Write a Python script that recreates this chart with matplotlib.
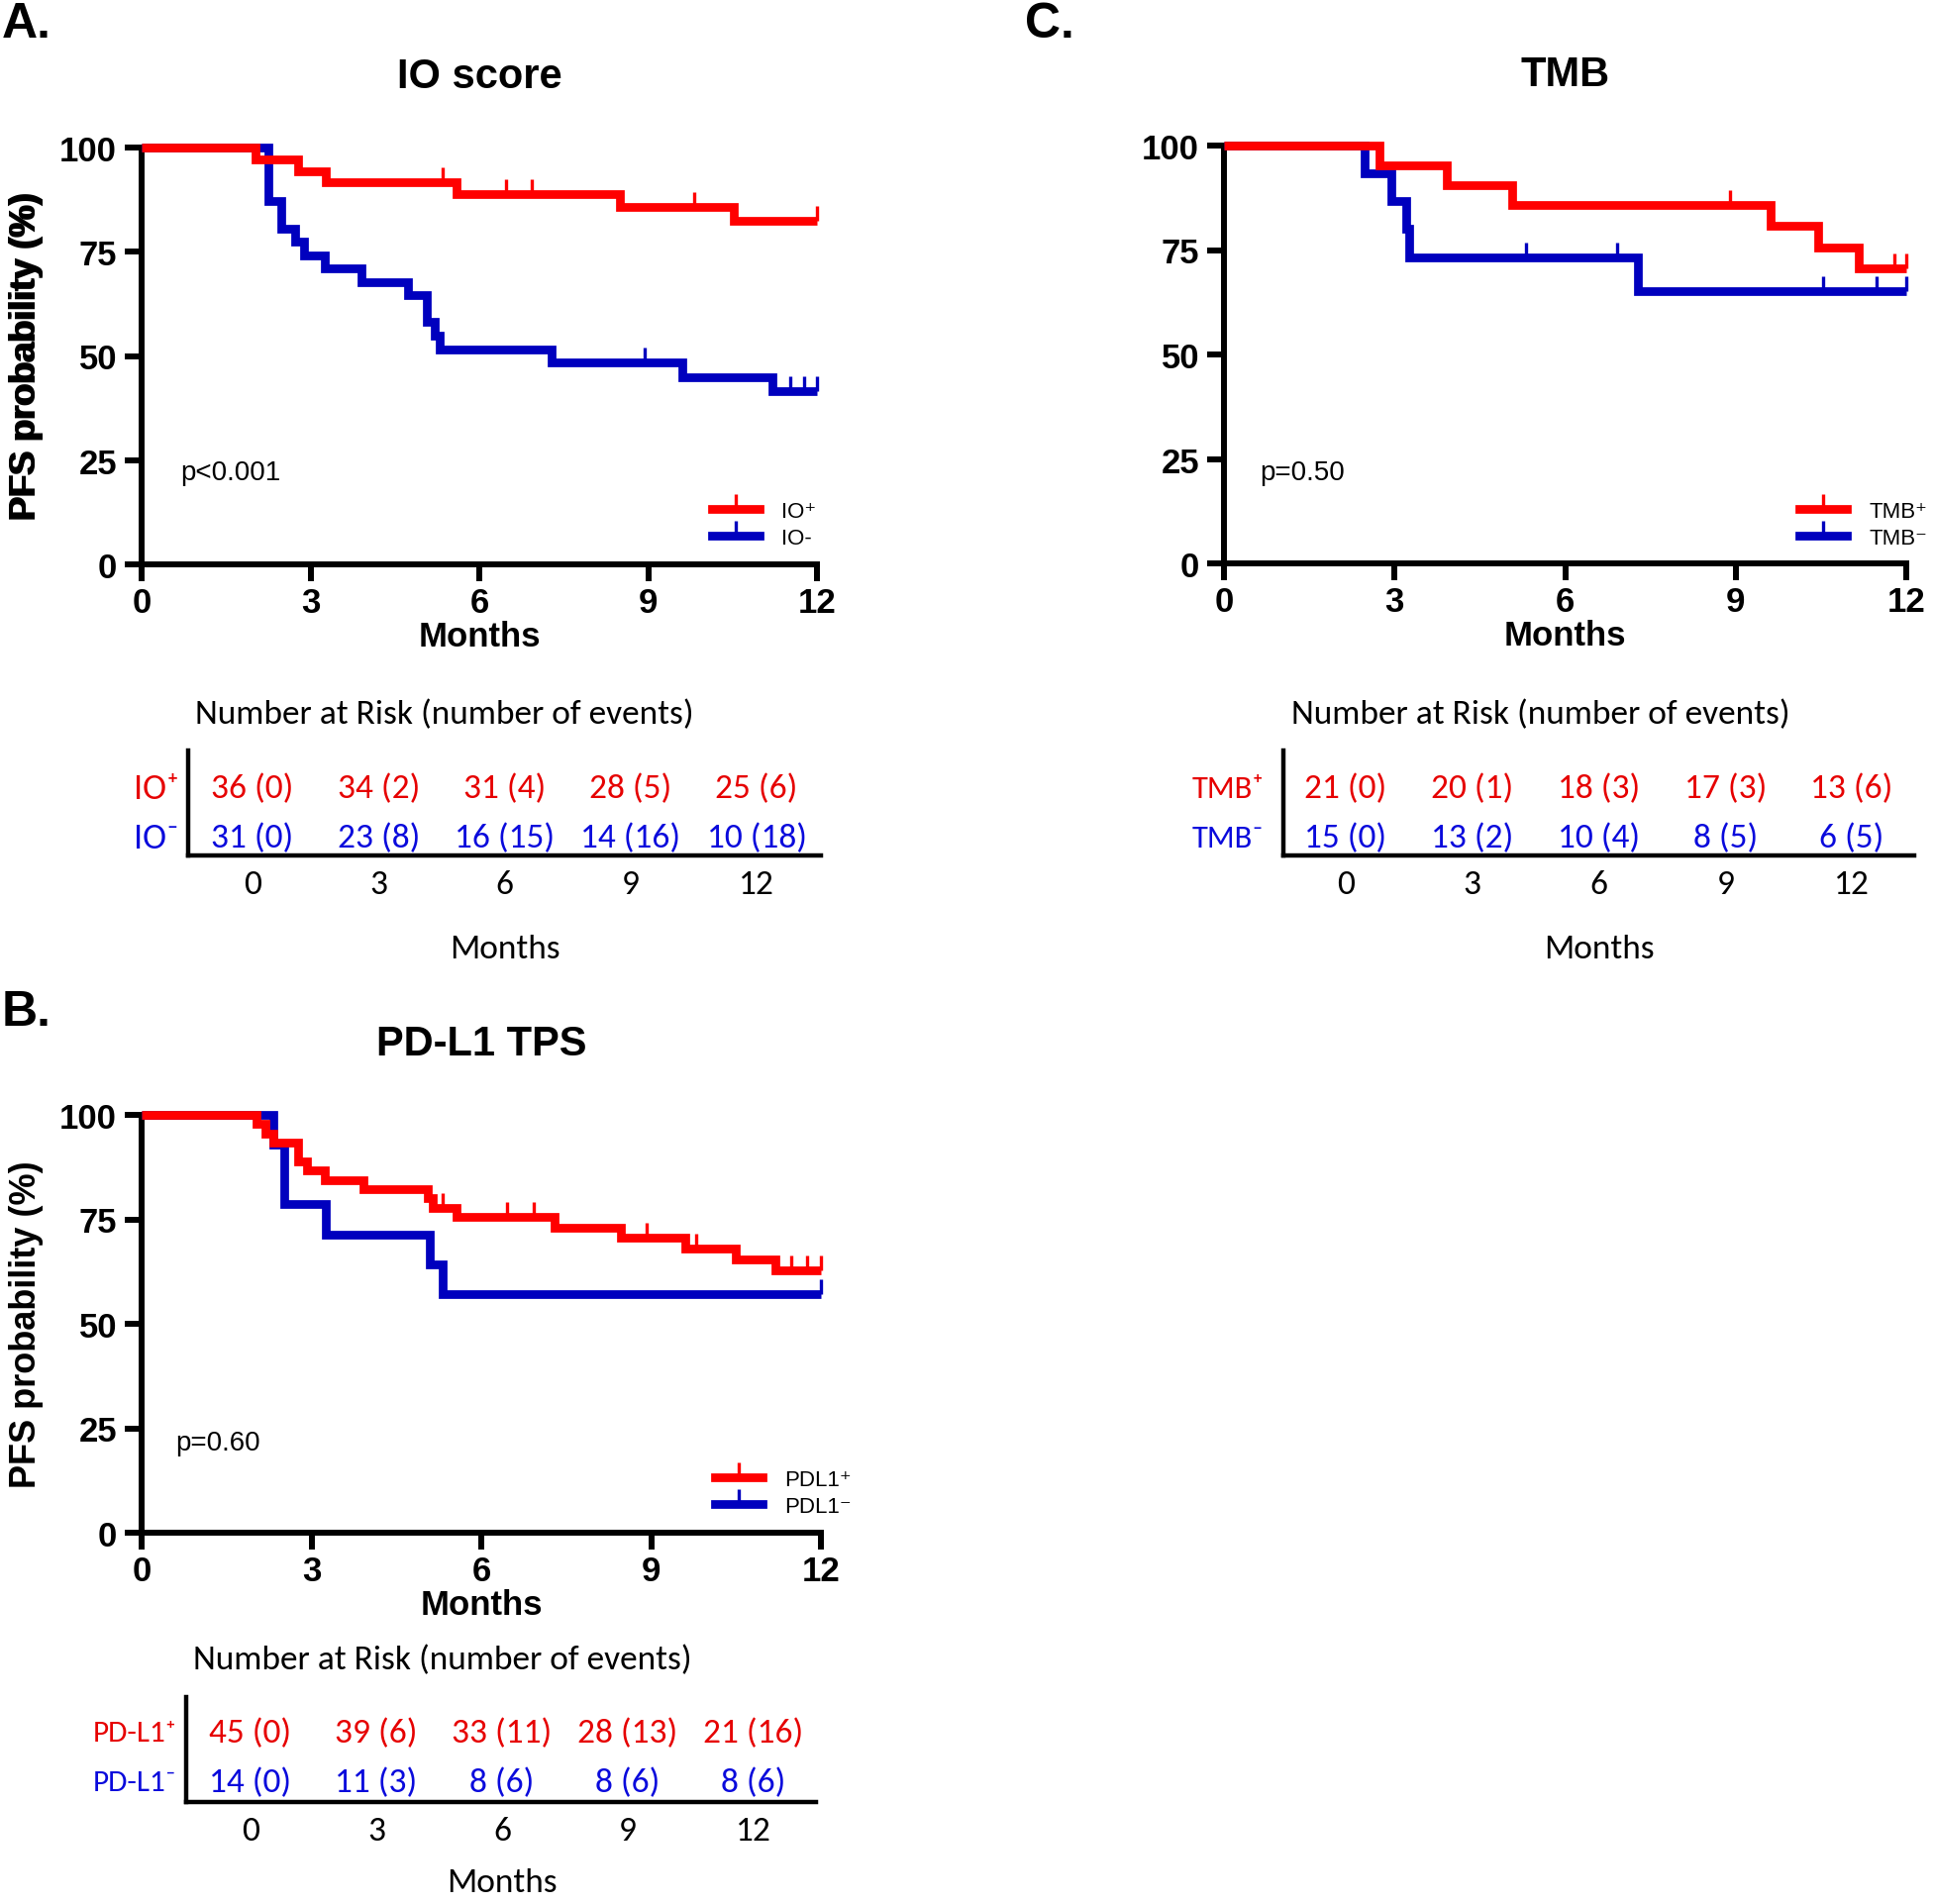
import numpy as np
import matplotlib
matplotlib.use('Agg')
import matplotlib.pyplot as plt
from matplotlib.lines import Line2D
from matplotlib.transforms import blended_transform_factory

# ---------------- data ----------------
# Panel A: IO score
io_pos_t = [0, 2.03, 2.78, 3.27, 5.6, 8.49, 10.52]
io_pos_s = [100, 97.2, 94.4, 91.7, 88.8, 85.7, 82.5]
io_pos_cens = [5.35, 6.48, 6.94, 9.82, 12.0]
io_neg_t = [0, 2.25, 2.48, 2.72, 2.88, 3.25, 3.9, 4.74, 5.07, 5.2, 5.3, 7.29, 9.61, 11.2]
io_neg_s = [100, 87.1, 80.6, 77.4, 74.2, 71.0, 67.7, 64.5, 58.1, 54.8, 51.6, 48.4, 44.9, 41.5]
io_neg_cens = [8.94, 11.53, 11.77, 12.0]

# Panel C: TMB
tmb_pos_t = [0, 2.74, 3.92, 5.06, 9.62, 10.45, 11.17]
tmb_pos_s = [100, 95.2, 90.5, 85.7, 80.7, 75.6, 70.6]
tmb_pos_cens = [8.9, 11.79, 12.0]
tmb_neg_t = [0, 2.47, 2.95, 3.2, 3.26, 7.28]
tmb_neg_s = [100, 93.3, 86.7, 80.0, 73.3, 65.2]
tmb_neg_cens = [5.32, 6.91, 10.53, 11.48, 12.0]

# Panel B: PD-L1 TPS
pdl_pos_t = [0, 2.03, 2.19, 2.32, 2.76, 2.92, 3.24, 3.92, 5.05, 5.15, 5.57, 7.3, 8.46, 9.6, 10.5, 11.2]
pdl_pos_s = [100, 97.8, 95.6, 93.3, 88.9, 86.7, 84.4, 82.2, 80.0, 77.8, 75.5, 73.1, 70.6, 68.1, 65.5, 62.9]
pdl_pos_cens = [5.31, 6.45, 6.92, 8.92, 9.79, 11.48, 11.76, 12.0]
pdl_neg_t = [0, 2.32, 2.52, 3.26, 5.09, 5.31]
pdl_neg_s = [100, 92.9, 78.6, 71.4, 64.3, 57.1]
pdl_neg_cens = [12.0]

month_ticks = [0, 3, 6, 9, 12]
pfs_ticks = [0, 25, 50, 75, 100]

# Number at risk (number of events) at months 0, 3, 6, 9, 12
io_pos_risk, io_pos_events = [36, 34, 31, 28, 25], [0, 2, 4, 5, 6]
io_neg_risk, io_neg_events = [31, 23, 16, 14, 10], [0, 8, 15, 16, 18]
tmb_pos_risk, tmb_pos_events = [21, 20, 18, 17, 13], [0, 1, 3, 3, 6]
tmb_neg_risk, tmb_neg_events = [15, 13, 10, 8, 6], [0, 2, 4, 5, 5]
pdl_pos_risk, pdl_pos_events = [45, 39, 33, 28, 21], [0, 6, 11, 13, 16]
pdl_neg_risk, pdl_neg_events = [14, 11, 8, 8, 8], [0, 3, 6, 6, 6]

# ---------------- style ----------------
RED = '#FF0000'
BLUE = '#0000BE'
TRED = '#E60000'
TBLUE = '#0A0ADC'
ARIAL = ['Liberation Sans', 'DejaVu Sans']
TFONT = ['Carlito', 'Lato', 'DejaVu Sans']
TSIZE = 25.5
plt.rcParams['font.family'] = ARIAL

W, H = 1952, 1924
fig = plt.figure(figsize=(W / 100, H / 100), dpi=100)


def add_axes_px(l, t, r, b):
    return fig.add_axes([l / W, 1 - b / H, (r - l) / W, (b - t) / H])


def draw_curve(ax, t, s, cens, color, z):
    tt = list(t) + [12.0]
    ss = list(s) + [s[-1]]
    ax.step(tt, ss, where='post', color=color, lw=6.3, solid_joinstyle='miter',
            solid_capstyle='butt', clip_on=False, zorder=z)
    ta = np.asarray(t)
    sa = np.asarray(s)
    cy = [sa[np.searchsorted(ta, c, side='right') - 1] for c in cens]
    ax.plot(cens, cy, ls='none', marker=2, ms=11, mew=2.4, color=color,
            clip_on=False, zorder=z)


def km_panel(box, title, curves, ptxt, ptxt_px, labels, leg_px):
    l, t, r, b = box
    ax = add_axes_px(l, t, r, b)
    for (tt, ss, cc, col, z) in curves:
        draw_curve(ax, tt, ss, cc, col, z)
    ax.set_xlim(0, 12)
    ax.set_ylim(0, 100)
    ax.set_xticks(month_ticks)
    ax.set_yticks(pfs_ticks)
    for sp in ['top', 'right']:
        ax.spines[sp].set_visible(False)
    for sp in ['left', 'bottom']:
        ax.spines[sp].set_linewidth(4.3)
        ax.spines[sp].set_capstyle('projecting')
    ax.tick_params(direction='out', length=12, width=4.3, labelsize=25)
    ax.tick_params(axis='x', pad=4)
    ax.tick_params(axis='y', pad=6)
    for lbl in ax.get_xticklabels() + ax.get_yticklabels():
        lbl.set_fontweight('bold')
    ax.set_xlabel('Months', fontsize=25, fontweight='bold')
    ax.xaxis.set_label_coords(0.5, -73 / (b - t))
    ax.xaxis.label.set_va('center')
    ax.set_ylabel('PFS probability (%)', fontsize=26, fontweight='bold')
    ax.yaxis.set_label_coords(-(l - 27) / (r - l), 0.5)
    ax.yaxis.label.set_va('center')
    ax.text(0.5, 1 + 72 / (b - t), title, transform=ax.transAxes, ha='center',
            va='center', fontsize=30, fontweight='bold')
    ax.text((ptxt_px[0] - l) / (r - l), (b - ptxt_px[1]) / (b - t), ptxt,
            transform=ax.transAxes, ha='left', va='center', fontsize=20)
    handles = [Line2D([0], [0], color=RED, lw=6.3, marker=2, ms=11, mew=2.4),
               Line2D([0], [0], color=BLUE, lw=6.3, marker=2, ms=11, mew=2.4)]
    ax.legend(handles, labels, loc='upper left',
              bbox_to_anchor=((leg_px[0] - l) / (r - l), (b - leg_px[1]) / (b - t)),
              frameon=False, numpoints=1, handlelength=2.15, handletextpad=1.0,
              labelspacing=0.25, borderpad=0, borderaxespad=0,
              prop={'family': ARIAL, 'size': 16})
    return ax


def risk_table(box, c0, c12, rows_px, rlabels, lab_px, lab_size, risks, events,
               title_px, months_y):
    l, t, r, b = box
    ax = add_axes_px(l, t, r, b)
    ppm = (c12 - c0) / 12.0
    ax.set_xlim(-(c0 - l) / ppm, 12 + (r - c12) / ppm)
    ax.set_ylim(0, 1)
    for sp in ['top', 'right']:
        ax.spines[sp].set_visible(False)
    for sp in ['left', 'bottom']:
        ax.spines[sp].set_linewidth(3.2)
    ax.set_yticks([])
    ax.set_xticks(month_ticks)
    ax.set_xticklabels([str(m) for m in month_ticks], family=TFONT, fontsize=TSIZE)
    ax.tick_params(axis='x', length=0, pad=10)
    blend = blended_transform_factory(ax.transAxes, ax.transData)
    colors = [TRED, TBLUE]
    for i in range(2):
        yy = (b - rows_px[i]) / (b - t)
        for m, n, e in zip(month_ticks, risks[i], events[i]):
            ax.text(m, yy, f'{n} ({e})', ha='center', va='center', color=colors[i],
                    family=TFONT, fontsize=TSIZE)
        ax.text((lab_px - l) / (r - l), yy, rlabels[i], transform=blend, ha='right',
                va='center', color=colors[i], family=TFONT, fontsize=lab_size)
    fig.text(title_px[0] / W, 1 - title_px[1] / H, 'Number at Risk (number of events)',
             ha='center', va='center', family=TFONT, fontsize=TSIZE)
    ax.text(6, -(months_y - b) / (b - t), 'Months', ha='center', va='center',
            family=TFONT, fontsize=TSIZE,
            transform=blended_transform_factory(ax.transData, ax.transAxes))
    return ax


# ---------------- panels ----------------
km_panel((143, 150, 825, 571), 'IO score',
         [(io_neg_t, io_neg_s, io_neg_cens, BLUE, 3),
          (io_pos_t, io_pos_s, io_pos_cens, RED, 4)],
         'p<0.001', (182, 478), ['IO\u207a', 'IO-'], (719, 507))

km_panel((1236, 148, 1925, 570), 'TMB',
         [(tmb_neg_t, tmb_neg_s, tmb_neg_cens, BLUE, 3),
          (tmb_pos_t, tmb_pos_s, tmb_pos_cens, RED, 4)],
         'p=0.50', (1272, 478), ['TMB\u207a', 'TMB\u207b'], (1817, 507))

km_panel((143, 1127, 829, 1549), 'PD-L1 TPS',
         [(pdl_neg_t, pdl_neg_s, pdl_neg_cens, BLUE, 3),
          (pdl_pos_t, pdl_pos_s, pdl_pos_cens, RED, 4)],
         'p=0.60', (177, 1458), ['PDL1\u207a', 'PDL1\u207b'], (722, 1485))

risk_table((190, 759, 829, 865), 255, 764, (797, 847), ['IO\u207a', 'IO\u207b'], 181, 26,
           [io_pos_risk, io_neg_risk], [io_pos_events, io_neg_events], (449, 722), 959)
risk_table((1296, 759, 1933, 865), 1359, 1870, (797, 847), ['TMB\u207a', 'TMB\u207b'], 1277, 23.5,
           [tmb_pos_risk, tmb_neg_risk], [tmb_pos_events, tmb_neg_events], (1556, 722), 959)
risk_table((188, 1715, 824, 1821), 253, 761, (1751, 1801), ['PD-L1\u207a', 'PD-L1\u207b'], 179, 22.5,
           [pdl_pos_risk, pdl_neg_risk], [pdl_pos_events, pdl_neg_events], (447, 1677), 1902)

for letter, (x, y) in {'A.': (2, 25), 'C.': (1035, 25), 'B.': (2, 1023)}.items():
    fig.text(x / W, 1 - y / H, letter, ha='left', va='center', fontsize=36, fontweight='bold')

fig.savefig('out.png', dpi=100, facecolor='white')
